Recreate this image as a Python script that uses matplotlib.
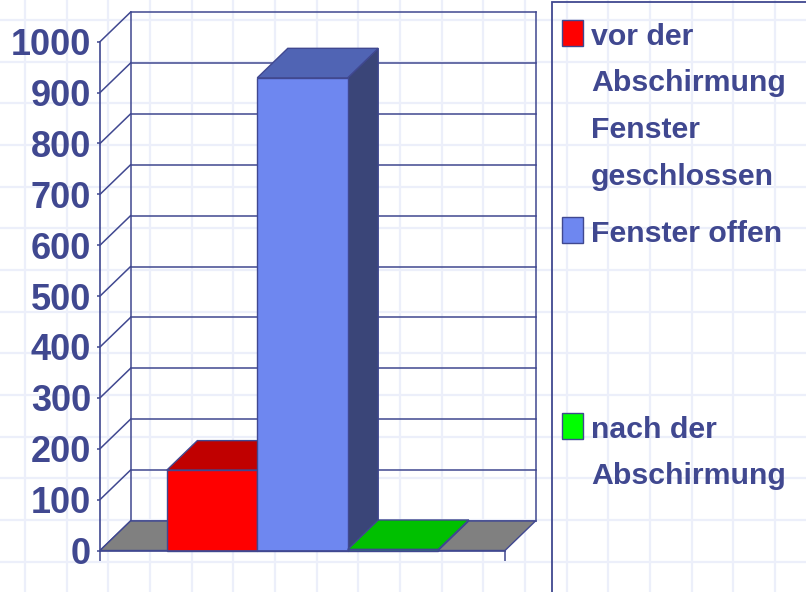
import matplotlib.pyplot as plt
from matplotlib.patches import Polygon, Rectangle
from matplotlib.lines import Line2D
import numpy as np

plt.rcParams['font.family'] = ['Liberation Sans', 'DejaVu Sans']

# data
series = ["vor der\nAbschirmung\nFenster\ngeschlossen", "Fenster offen", "nach der\nAbschirmung"]
values = [158, 929, 2]
front_colors = ['#FF0000', '#6E87F0', '#00FF00']
top_colors = ['#C00000', '#5064B4', '#00C000']
side_colors = ['#A00000', '#3A4578', '#009000']
yticks = np.arange(0, 1001, 100)

navy = '#404890'
W, H = 806, 592

fig = plt.figure(figsize=(W / 100, H / 100), dpi=100)

# graph-paper background
for x in np.arange(25, W, 41.67):
    fig.add_artist(Line2D([x / W, x / W], [0, 1], color='#ECEFFA', lw=1.6, zorder=0))
for y in np.arange(20, H, 41.67):
    fig.add_artist(Line2D([0, 1], [1 - y / H, 1 - y / H], color='#ECEFFA', lw=1.6, zorder=0))

# front plane of the 3D box
ax = fig.add_axes([100 / W, (H - 550.5) / H, 405 / W, 508.8 / H])
ax.set_xlim(0, 1)
ax.set_ylim(0, 1000)
ax.patch.set_alpha(0)

# depth offset (about 30 px)
DX = 30.5 / 405
DY = 29.5 / 508.8 * 1000

# back wall and side wall lines
for t in yticks:
    ax.plot([DX, 1 + DX], [t + DY, t + DY], color=navy, lw=1.1, zorder=1, clip_on=False)
    ax.plot([0, DX], [t, t + DY], color=navy, lw=1.1, zorder=1, clip_on=False)
ax.plot([DX, DX], [DY, 1000 + DY], color=navy, lw=1.1, zorder=1, clip_on=False)
ax.plot([1 + DX, 1 + DX], [DY, 1000 + DY], color=navy, lw=1.1, zorder=1, clip_on=False)

# floor
ax.add_patch(Polygon([(0, 0), (1, 0), (1 + DX, DY), (DX, DY)], closed=True,
                     facecolor='#808080', edgecolor=navy, lw=1, zorder=2, clip_on=False))

# bars
bw = 0.67 / 3
start = 0.5 - 1.5 * bw
for i, v in enumerate(values):
    x0 = start + i * bw
    z = 3 + i
    ax.add_patch(Polygon([(x0 + bw, 0), (x0 + bw + DX, DY), (x0 + bw + DX, v + DY), (x0 + bw, v)],
                         closed=True, facecolor=side_colors[i], edgecolor=navy, lw=1, zorder=z, clip_on=False))
    ax.add_patch(Polygon([(x0, v), (x0 + bw, v), (x0 + bw + DX, v + DY), (x0 + DX, v + DY)],
                         closed=True, facecolor=top_colors[i], edgecolor=navy, lw=1, zorder=z, clip_on=False))
    ax.add_patch(Rectangle((x0, 0), bw, v, facecolor=front_colors[i], edgecolor=navy,
                           lw=1, zorder=z, clip_on=False))

# axes
for s in ['top', 'right']:
    ax.spines[s].set_visible(False)
for s in ['left', 'bottom']:
    ax.spines[s].set_color(navy)
    ax.spines[s].set_linewidth(1.2)
    ax.spines[s].set_zorder(10)
ax.set_yticks(yticks)
ax.set_yticklabels([str(t) for t in yticks], fontsize=26, fontweight='bold', color=navy)
ax.tick_params(axis='y', length=2.5, width=1.1, color=navy, pad=4)
ax.set_xticks([0, 1])
ax.set_xticklabels(['', ''])
ax.tick_params(axis='x', length=7, width=1.1, color=navy)

# legend box
fig.add_artist(Rectangle((552 / W, -0.1), 0.5, (H - 1.7) / H + 0.1, transform=fig.transFigure,
                         facecolor='none', edgecolor=navy, lw=1.3, zorder=5))
entry_tops = [20, 217, 413]
for i, label in enumerate(series):
    top = entry_tops[i]
    fig.add_artist(Rectangle((562 / W, 1 - (top + 26) / H), 21 / W, 26 / H, transform=fig.transFigure,
                             facecolor=front_colors[i], edgecolor=navy, lw=1, zorder=6))
    for j, line in enumerate(label.split('\n')):
        base = top + 25 + j * 46.5
        fig.text(591 / W, 1 - base / H, line, fontsize=21.8, fontweight='bold', color=navy,
                 va='baseline', ha='left', zorder=6)

fig.savefig('out.png', dpi=100)
